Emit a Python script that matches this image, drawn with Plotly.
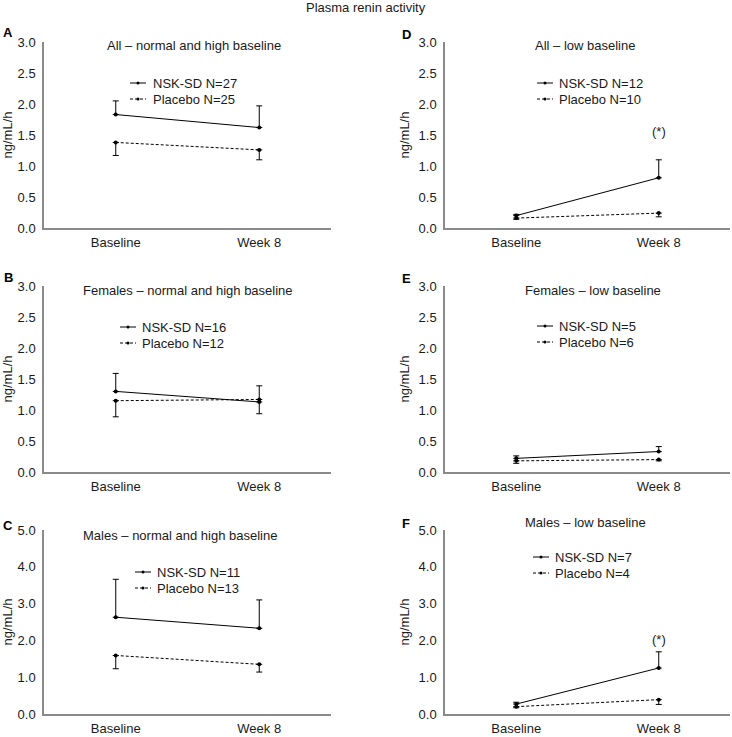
import plotly.graph_objects as go

# ---------------- data ----------------
timepoints = ["Baseline", "Week 8"]

panel_letters = ["A", "D", "B", "E", "C", "F"]
panel_titles = [
    "All – normal and high baseline",
    "All – low baseline",
    "Females – normal and high baseline",
    "Females – low baseline",
    "Males – normal and high baseline",
    "Males – low baseline",
]
nsk_labels = ["NSK-SD N=27", "NSK-SD N=12", "NSK-SD N=16", "NSK-SD N=5", "NSK-SD N=11", "NSK-SD N=7"]
placebo_labels = ["Placebo N=25", "Placebo N=10", "Placebo N=12", "Placebo N=6", "Placebo N=13", "Placebo N=4"]

# NSK-SD means and upper error (SE)
nsk_A = [1.83, 1.62]
nsk_A_err = [0.22, 0.35]
nsk_D = [0.20, 0.81]
nsk_D_err = [0.02, 0.29]
nsk_B = [1.30, 1.13]
nsk_B_err = [0.29, 0.26]
nsk_E = [0.22, 0.33]
nsk_E_err = [0.04, 0.08]
nsk_C = [2.63, 2.33]
nsk_C_err = [1.03, 0.77]
nsk_F = [0.27, 1.25]
nsk_F_err = [0.05, 0.44]

# Placebo means and lower error (SE)
pla_A = [1.38, 1.26]
pla_A_err = [0.21, 0.16]
pla_D = [0.16, 0.24]
pla_D_err = [0.02, 0.06]
pla_B = [1.15, 1.17]
pla_B_err = [0.26, 0.23]
pla_E = [0.18, 0.20]
pla_E_err = [0.04, 0.02]
pla_C = [1.59, 1.35]
pla_C_err = [0.36, 0.21]
pla_F = [0.20, 0.39]
pla_F_err = [0.03, 0.13]

y_max = [3.0, 3.0, 3.0, 3.0, 5.0, 5.0]
y_step = [0.5, 0.5, 0.5, 0.5, 1.0, 1.0]

# significance markers: (panel index, y value)
sig_panels = [1, 5]
sig_y = [1.55, 2.02]

# ---------------- layout geometry ----------------
W, H = 732, 737
ML, MR, MT, MB = 44, 2, 42, 23
PW, PH = W - ML - MR, H - MT - MB


def px_x(p):
    return (p - ML) / PW


def px_y(p):
    return (H - MB - p) / PH


col_px = [(44, 331), (445, 730)]
row_px = [(42, 228), (286, 472), (530, 714)]

nsk_means = [nsk_A, nsk_D, nsk_B, nsk_E, nsk_C, nsk_F]
nsk_errs = [nsk_A_err, nsk_D_err, nsk_B_err, nsk_E_err, nsk_C_err, nsk_F_err]
pla_means = [pla_A, pla_D, pla_B, pla_E, pla_C, pla_F]
pla_errs = [pla_A_err, pla_D_err, pla_B_err, pla_E_err, pla_C_err, pla_F_err]

FONT = "Liberation Sans, Arial, Helvetica, sans-serif"
TXT = "#1a1a1a"
AXC = "#8a8a8a"

fig = go.Figure()
annotations = []
shapes = []

# title pixel positions (center x, center y), legend (line start x, text x, row1 y, row2 y), letter (x, y)
title_pos = [(194, 46), (585, 46), (188, 290), (593, 290), (180, 535), (585, 522)]
legend_pos = [(130, 151, 83, 99), (537, 557, 83, 99), (120, 140, 327, 343),
              (537, 557, 326, 342), (135, 155, 572, 588), (533, 553, 557, 573)]
letter_pos = [(8, 33), (406, 35), (8, 277), (406, 278), (8, 525), (406, 523)]

for i in range(6):
    r, c = i // 2, i % 2
    n = i + 1
    xa = "x" if n == 1 else f"x{n}"
    ya = "y" if n == 1 else f"y{n}"
    x0, x1 = col_px[c]
    y0, y1 = row_px[r]

    fig.add_trace(go.Scatter(
        x=timepoints, y=pla_means[i], xaxis=xa, yaxis=ya, mode="lines+markers",
        line=dict(color="black", width=1, dash="3px,2px"),
        marker=dict(color="black", size=4),
        error_y=dict(type="data", symmetric=False, array=[0] * len(pla_errs[i]),
                     arrayminus=pla_errs[i], color="black", thickness=1, width=3),
        showlegend=False, name=placebo_labels[i]))
    fig.add_trace(go.Scatter(
        x=timepoints, y=nsk_means[i], xaxis=xa, yaxis=ya, mode="lines+markers",
        line=dict(color="black", width=1),
        marker=dict(color="black", size=4),
        error_y=dict(type="data", symmetric=False, array=nsk_errs[i],
                     arrayminus=[0] * len(nsk_errs[i]), color="black", thickness=1, width=3),
        showlegend=False, name=nsk_labels[i]))

    ticks = []
    v = 0.0
    while v <= y_max[i] + 1e-9:
        ticks.append(round(v, 2))
        v += y_step[i]

    fig.update_layout({
        ("xaxis" if n == 1 else f"xaxis{n}"): dict(
            domain=[px_x(x0), px_x(x1)], anchor=ya, type="category",
            range=[-0.5, 1.5], showline=True, linecolor=AXC, linewidth=1.5,
            showgrid=False, zeroline=False, ticks="", ticklabelstandoff=2,
            automargin=False,
            tickfont=dict(family=FONT, size=13, color=TXT), fixedrange=True),
        ("yaxis" if n == 1 else f"yaxis{n}"): dict(
            domain=[px_y(y1), px_y(y0)], anchor=xa, range=[0, y_max[i]],
            tickvals=ticks, tickformat=".1f", showline=True, linecolor=AXC,
            linewidth=1.5, showgrid=False, zeroline=False, ticks="",
            ticklabelstandoff=4, automargin=False,
            tickfont=dict(family=FONT, size=13, color=TXT),
            title=dict(text="ng/mL/h", standoff=6, font=dict(family=FONT, size=13, color=TXT)),
            fixedrange=True),
    })

    # panel title
    tx, ty = title_pos[i]
    annotations.append(dict(text=panel_titles[i], x=px_x(tx), y=px_y(ty), xref="paper", yref="paper",
                            showarrow=False, xanchor="center", yanchor="middle",
                            font=dict(family=FONT, size=13, color=TXT)))
    # panel letter
    lx, ly = letter_pos[i]
    annotations.append(dict(text=f"<b>{panel_letters[i]}</b>", x=px_x(lx), y=px_y(ly), xref="paper",
                            yref="paper", showarrow=False, xanchor="center", yanchor="middle",
                            font=dict(family=FONT, size=13, color="black")))
    # legend
    gx, gt, r1, r2 = legend_pos[i]
    for yy, lab, dash in [(r1, nsk_labels[i], "solid"), (r2, placebo_labels[i], "3px,2px")]:
        shapes.append(dict(type="line", xref="paper", yref="paper", x0=px_x(gx), x1=px_x(gx + 16),
                           y0=px_y(yy), y1=px_y(yy), line=dict(color="black", width=1, dash=dash)))
        shapes.append(dict(type="circle", xref="paper", yref="paper", x0=px_x(gx + 6.5),
                           x1=px_x(gx + 9.5), y0=px_y(yy + 1.5), y1=px_y(yy - 1.5),
                           fillcolor="black", line=dict(color="black", width=0)))
        annotations.append(dict(text=lab, x=px_x(gt), y=px_y(yy), xref="paper", yref="paper",
                                showarrow=False, xanchor="left", yanchor="middle",
                                font=dict(family=FONT, size=13, color=TXT)))

for k, p in enumerate(sig_panels):
    n = p + 1
    annotations.append(dict(text="(*)", x=timepoints[1], y=sig_y[k],
                            xref=f"x{n}", yref=f"y{n}", showarrow=False,
                            xanchor="center", yanchor="middle",
                            font=dict(family=FONT, size=13, color=TXT)))

annotations.append(dict(text="Plasma renin activity", x=px_x(366), y=px_y(8), xref="paper", yref="paper",
                        showarrow=False, xanchor="center", yanchor="middle",
                        font=dict(family=FONT, size=13, color=TXT)))

fig.update_layout(
    width=W, height=H,
    margin=dict(l=ML, r=MR, t=MT, b=MB, autoexpand=False),
    paper_bgcolor="white", plot_bgcolor="white",
    showlegend=False,
    annotations=annotations, shapes=shapes,
    font=dict(family=FONT, size=13, color=TXT),
)

fig.write_html("out.html", config={"displayModeBar": False},
               post_script="document.body.style.margin='0';document.body.style.overflow='hidden';")
